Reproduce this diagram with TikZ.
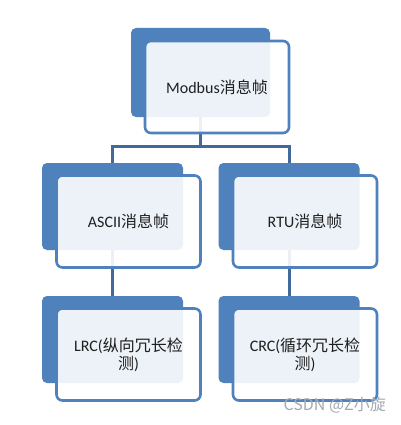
\documentclass[tikz,border=0pt]{standalone}
\usepackage{fontspec}
\setmainfont{Carlito}
\newfontfamily\cjk{Noto Sans CJK SC}
\usetikzlibrary{backgrounds}
\definecolor{accblue}{HTML}{4F81BD}
\definecolor{conblue}{HTML}{41699A}
\definecolor{wmgray}{HTML}{A4AAB2}
\begin{document}
\begin{tikzpicture}[x=1pt,y=-1pt,
  backbox/.style={rectangle,rounded corners=5pt,fill=accblue,minimum width=141pt,minimum height=87pt,inner sep=0pt},
  frontbox/.style={rectangle,rounded corners=6pt,draw=accblue,line width=2.6pt,fill=white,fill opacity=0.9,text opacity=1,minimum width=144pt,minimum height=92pt,inner sep=0pt,align=center,font=\fontsize{16}{18}\selectfont,text=black!88},
  conn/.style={draw=conblue,line width=3pt}]
\useasboundingbox (0,0) rectangle (400,425);
% top
\node[backbox,minimum width=139pt,minimum height=89pt] (tb) at (200.5,72.5) {};
\node[frontbox] (tf) at (217,87) {Modbus{\cjk 消息帧}};
% middle
\node[backbox] (mlb) at (112.5,206.5) {};
\node[frontbox] (mlf) at (128.5,221.5) {ASCII{\cjk 消息帧}};
\node[backbox] (mrb) at (289,206.5) {};
\node[frontbox] (mrf) at (305,221.5) {RTU{\cjk 消息帧}};
% bottom
\node[backbox] (blb) at (112.5,339.5) {};
\node[frontbox] (blf) at (128.5,354.5) {LRC({\cjk 纵向冗长检}\\{\cjk 测})};
\node[backbox] (brb) at (289,339.5) {};
\node[frontbox] (brf) at (305,354.5) {CRC({\cjk 循环冗长检}\\{\cjk 测})};
% connectors
\coordinate (j) at (200.5,146);
\begin{scope}[on background layer]
\fill[white] (0,0) rectangle (400,425);
\draw[conn] (tb.center) -- (j);
\draw[conn] (mlb.center) |- (j) -| (mrb.center);
\draw[conn] (mlb.center) -- (blb.center);
\draw[conn] (mrb.center) -- (brb.center);
\end{scope}
% watermark
\node[anchor=east,text=wmgray,font=\cjk\fontsize{16}{18}\selectfont,inner sep=0pt] (wm) at (386,405) {CSDN @Z小旋};
\end{tikzpicture}
\end{document}
